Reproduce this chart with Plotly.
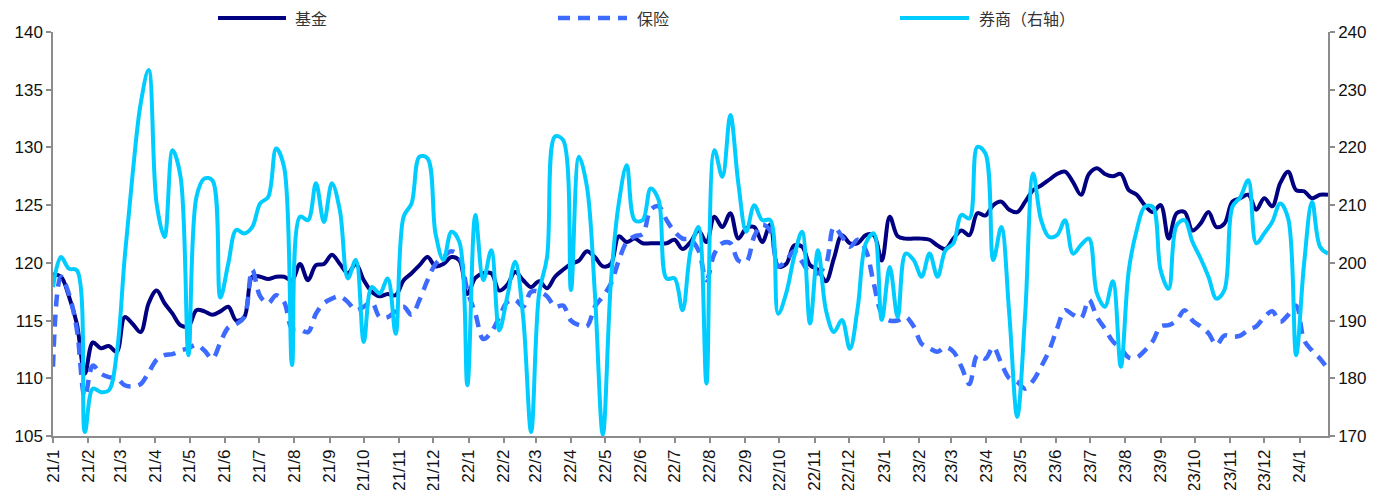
import pandas as pd
import plotly.graph_objects as go

# Weekly observations, first Friday of 2021 through late January 2024
start_date = "2021-01-01"
n_weeks = 161
dates = pd.date_range(start_date, periods=n_weeks, freq="7D")

fund = [
    119.0, 118.8, 117.1, 114.7, 110.4, 113.1, 112.6, 112.8, 112.3, 115.3, 114.7, 114.0, 116.5, 117.6, 116.5, 115.6, 114.6, 114.5, 115.9, 115.8, 115.5, 115.8, 116.2, 115.0, 115.3, 118.8, 118.8,
    118.6, 118.8, 118.8, 118.5, 119.9, 118.5, 119.8, 119.9, 120.7, 119.9, 119.1, 119.9, 118.5, 117.5, 117.1, 117.3, 117.2, 118.5, 119.1, 119.8, 120.5, 119.7, 119.9, 120.5, 120.2, 117.3,
    118.7, 119.1, 119.1, 117.6, 118.1, 119.2, 118.5, 117.9, 118.4, 117.8, 118.8, 119.4, 119.9, 120.2, 121.0, 120.5, 119.7, 119.9, 122.3, 121.8, 122.1, 121.7, 121.7, 121.7, 121.7, 122.0, 121.2,
    121.8, 122.8, 121.8, 124.0, 123.1, 124.3, 122.1, 123.0, 123.1, 121.8, 123.3, 119.7, 119.9, 121.5, 121.4, 119.8, 119.4, 118.4, 120.4, 122.4, 121.7, 121.7, 122.4, 122.4, 120.2, 124.0, 122.3,
    122.1, 122.1, 122.1, 122.0, 121.5, 121.2, 122.1, 122.8, 122.4, 124.3, 124.1, 125.0, 125.3, 124.6, 124.4, 125.3, 126.3, 126.7, 127.2, 127.7, 127.9, 127.0, 125.9, 127.7, 128.2, 127.7,
    127.5, 127.7, 126.3, 125.9, 125.0, 124.4, 125.0, 122.1, 124.3, 124.4, 122.8, 123.4, 124.4, 123.1, 123.4, 125.3, 125.6, 125.9, 124.6, 125.6, 124.9, 126.9, 127.9, 126.3, 126.2, 125.6, 125.9, 125.9,
]

insurance = [
    111.0, 118.8, 117.3, 114.2, 108.4, 111.1, 110.4, 110.1, 110.0, 109.4, 109.3, 109.5, 110.5, 111.6, 112.0, 112.1, 112.4, 112.6, 112.9, 112.4, 111.7, 113.1, 114.4, 114.7, 115.3, 119.4, 117.1,
    116.5, 117.2, 116.6, 114.3, 114.2, 114.0, 115.6, 116.5, 116.9, 117.1, 116.6, 115.9, 116.2, 116.6, 115.3, 115.3, 115.8, 116.2, 115.5, 116.8, 118.5, 119.9, 120.5, 121.0, 120.5, 117.6,
    115.6, 113.4, 114.0, 115.3, 116.6, 116.8, 116.2, 117.5, 117.5, 117.1, 116.2, 116.3, 115.0, 114.6, 114.5, 116.2, 117.1, 118.2, 120.2, 121.8, 122.3, 122.5, 124.6, 124.9, 123.7, 122.7, 122.1,
    122.0, 121.1, 118.5, 120.8, 121.7, 121.7, 120.2, 120.1, 122.3, 123.3, 122.8, 119.7, 120.2, 121.0, 120.1, 119.1, 119.1, 119.9, 123.1, 122.3, 121.4, 122.0, 121.1, 118.2, 115.6, 115.0, 115.0,
    115.3, 114.5, 113.0, 112.6, 112.3, 112.7, 112.3, 111.0, 109.5, 112.0, 111.7, 112.7, 111.3, 110.0, 109.7, 109.1, 109.8, 111.0, 112.4, 114.3, 115.9, 115.5, 115.2, 116.8, 115.3, 114.3,
    113.2, 112.6, 111.8, 111.8, 112.4, 113.2, 114.5, 114.6, 115.0, 115.9, 115.0, 114.5, 113.9, 112.9, 113.7, 113.6, 113.7, 114.2, 114.5, 115.3, 115.8, 114.9, 115.5, 116.3, 113.3, 112.4, 111.7, 110.8,
]

broker = [
    195.8, 201.0, 199.0, 198.7, 170.7, 178.2, 177.6, 177.9, 184.3, 201.0, 215.5, 227.6, 233.4, 210.3, 204.5, 219.5, 215.0, 184.0, 211.4, 214.6, 214.3, 194.0, 199.9, 205.7, 205.1, 206.2, 210.3,
    211.4, 219.8, 216.6, 182.3, 208.0, 207.4, 213.8, 207.1, 213.8, 209.1, 197.3, 200.5, 186.3, 195.8, 194.7, 197.3, 187.7, 208.0, 210.3, 218.4, 218.1, 205.1, 200.5, 205.4, 203.6, 178.8,
    208.3, 197.0, 202.2, 188.3, 194.1, 200.2, 190.6, 170.7, 194.7, 201.0, 221.9, 221.3, 195.3, 218.4, 213.2, 194.7, 170.2, 196.4, 210.3, 216.9, 207.4, 207.4, 212.9, 210.9, 197.3, 197.3, 191.8,
    202.0, 206.2, 179.1, 219.5, 214.9, 225.6, 213.8, 205.4, 210.0, 207.4, 207.4, 191.2, 194.7, 201.0, 205.4, 189.5, 202.2, 191.8, 188.0, 190.1, 185.1, 192.4, 203.4, 205.1, 190.1, 199.3, 190.6,
    201.6, 200.5, 197.6, 201.6, 197.6, 202.2, 203.4, 208.3, 207.7, 220.1, 219.0, 200.5, 206.2, 191.2, 173.3, 191.2, 215.5, 207.4, 204.5, 204.8, 207.4, 201.6, 203.1, 204.2, 194.7, 192.4,
    196.8, 182.0, 198.7, 205.7, 209.7, 209.7, 198.7, 195.5, 206.5, 207.4, 203.6, 200.8, 197.6, 193.8, 195.3, 209.7, 211.4, 214.3, 203.4, 205.1, 207.1, 210.3, 207.7, 184.0, 199.9, 210.6, 202.8, 201.6,
]

series_names = ["基金", "保险", "券商（右轴）"]
colors = ["#000080", "#3D6BFF", "#00CCFF"]

# The page body adds an 8px offset; size the figure so the plot area lands
# at the same page pixels as the original (x 53..1328, y 32..436).
OFF = 8
W, H = 1393 - OFF, 490 - OFF
ML, MR, MT, MB = 53 - OFF, 65, 32 - OFF, 54
PW, PH = W - ML - MR, H - MT - MB

fig = go.Figure()
fig.add_trace(go.Scatter(x=dates, y=fund, name=series_names[0], mode="lines",
                         line=dict(color=colors[0], width=4, shape="spline", smoothing=1.0),
                         showlegend=False))
fig.add_trace(go.Scatter(x=dates, y=insurance, name=series_names[1], mode="lines",
                         line=dict(color=colors[1], width=4.5, shape="spline", smoothing=1.0,
                                   dash="12px,8px"),
                         showlegend=False))
fig.add_trace(go.Scatter(x=dates, y=broker, name=series_names[2], mode="lines", yaxis="y2",
                         line=dict(color=colors[2], width=4, shape="spline", smoothing=1.0),
                         showlegend=False))

# Manual legend (long line samples like the original), page-pixel positions
def px_x(X):
    return (X - OFF - ML) / PW

def px_y(Y):
    return (H - MB - (Y - OFF)) / PH

legend_items = [
    (218, 286, 293, series_names[0], colors[0], "solid", 4),
    (558, 627, 635, series_names[1], colors[1], "12px,8px", 4.5),
    (900, 969, 977, series_names[2], colors[2], "solid", 4),
]
ly = 18
for x0, x1, xt, label, col, dash, w in legend_items:
    fig.add_shape(type="line", xref="paper", yref="paper",
                  x0=px_x(x0), x1=px_x(x1), y0=px_y(ly), y1=px_y(ly),
                  line=dict(color=col, width=w, dash=dash))
    fig.add_annotation(xref="paper", yref="paper", x=px_x(xt), y=px_y(ly),
                       text=label, showarrow=False, xanchor="left", yanchor="middle",
                       font=dict(family="Noto Sans CJK SC", size=16, color="#333333"))

axis_col = "#8C8C8C"
tick_font = dict(family="Liberation Sans, Arial", size=17, color="#111111")

fig.update_layout(
    width=W, height=H,
    margin=dict(l=ML, r=MR, t=MT, b=MB, autoexpand=False),
    plot_bgcolor="white", paper_bgcolor="white",
    xaxis=dict(
        type="date", range=[dates[0], dates[-1]],
        tick0="2021-01-01", dtick="M1", tickformat="%y/%-m",
        tickangle=-90, ticks="outside", ticklen=5, tickwidth=1.5, tickcolor=axis_col,
        showline=True, linecolor=axis_col, linewidth=1.5,
        showgrid=False, zeroline=False, tickfont=tick_font, automargin=False,
    ),
    yaxis=dict(
        range=[105, 140], dtick=5, tick0=105,
        ticks="outside", ticklen=5, tickwidth=1.5, tickcolor=axis_col,
        showline=True, linecolor=axis_col, linewidth=1.5,
        showgrid=False, zeroline=False, tickfont=tick_font, automargin=False,
    ),
    yaxis2=dict(
        range=[170, 240], dtick=10, tick0=170, overlaying="y", side="right",
        ticks="outside", ticklen=5, tickwidth=1.5, tickcolor=axis_col,
        showline=True, linecolor=axis_col, linewidth=1.5,
        showgrid=False, zeroline=False, tickfont=tick_font, automargin=False,
    ),
)

fig.write_html("out.html")
